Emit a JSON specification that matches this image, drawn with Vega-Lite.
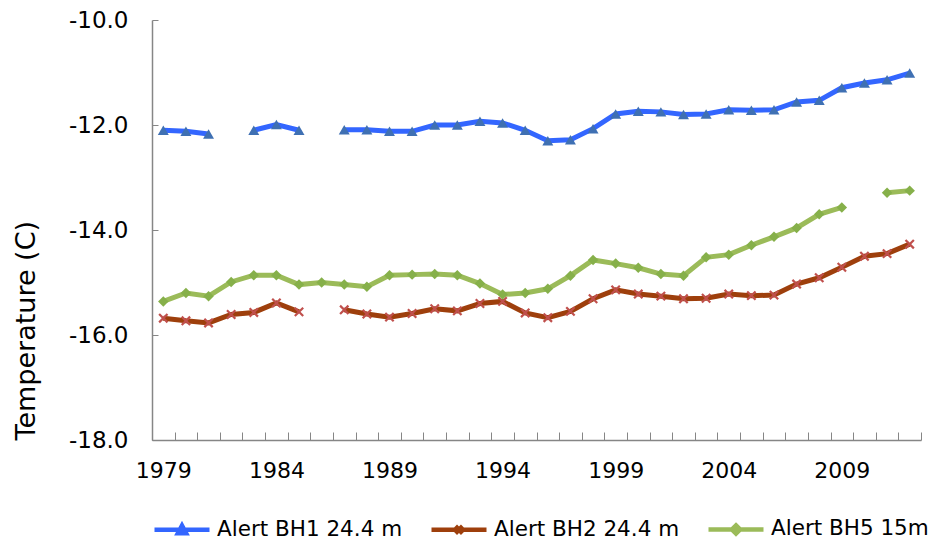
{
  "$schema": "https://vega.github.io/schema/vega-lite/v6.json",
  "width": 769,
  "height": 420,
  "autosize": {"type": "none"},
  "padding": {"left": 152, "top": 20, "right": 12, "bottom": 102},
  "background": "white",
  "config": {
    "font": "DejaVu Sans",
    "view": {"stroke": null},
    "axis": {"grid": false, "labelColor": "#000000", "titleColor": "#000000"}
  },
  "data": {"values": [
    {"year":1979,"series":"Alert BH1 24.4 m","temp":-12.10},
    {"year":1980,"series":"Alert BH1 24.4 m","temp":-12.12},
    {"year":1981,"series":"Alert BH1 24.4 m","temp":-12.17},
    {"year":1982,"series":"Alert BH1 24.4 m","temp":null},
    {"year":1983,"series":"Alert BH1 24.4 m","temp":-12.10},
    {"year":1984,"series":"Alert BH1 24.4 m","temp":-11.99},
    {"year":1985,"series":"Alert BH1 24.4 m","temp":-12.10},
    {"year":1986,"series":"Alert BH1 24.4 m","temp":null},
    {"year":1987,"series":"Alert BH1 24.4 m","temp":-12.09},
    {"year":1988,"series":"Alert BH1 24.4 m","temp":-12.09},
    {"year":1989,"series":"Alert BH1 24.4 m","temp":-12.12},
    {"year":1990,"series":"Alert BH1 24.4 m","temp":-12.12},
    {"year":1991,"series":"Alert BH1 24.4 m","temp":-12.00},
    {"year":1992,"series":"Alert BH1 24.4 m","temp":-12.00},
    {"year":1993,"series":"Alert BH1 24.4 m","temp":-11.93},
    {"year":1994,"series":"Alert BH1 24.4 m","temp":-11.96},
    {"year":1995,"series":"Alert BH1 24.4 m","temp":-12.10},
    {"year":1996,"series":"Alert BH1 24.4 m","temp":-12.30},
    {"year":1997,"series":"Alert BH1 24.4 m","temp":-12.28},
    {"year":1998,"series":"Alert BH1 24.4 m","temp":-12.07},
    {"year":1999,"series":"Alert BH1 24.4 m","temp":-11.79},
    {"year":2000,"series":"Alert BH1 24.4 m","temp":-11.74},
    {"year":2001,"series":"Alert BH1 24.4 m","temp":-11.75},
    {"year":2002,"series":"Alert BH1 24.4 m","temp":-11.80},
    {"year":2003,"series":"Alert BH1 24.4 m","temp":-11.79},
    {"year":2004,"series":"Alert BH1 24.4 m","temp":-11.71},
    {"year":2005,"series":"Alert BH1 24.4 m","temp":-11.72},
    {"year":2006,"series":"Alert BH1 24.4 m","temp":-11.71},
    {"year":2007,"series":"Alert BH1 24.4 m","temp":-11.56},
    {"year":2008,"series":"Alert BH1 24.4 m","temp":-11.53},
    {"year":2009,"series":"Alert BH1 24.4 m","temp":-11.29},
    {"year":2010,"series":"Alert BH1 24.4 m","temp":-11.20},
    {"year":2011,"series":"Alert BH1 24.4 m","temp":-11.14},
    {"year":2012,"series":"Alert BH1 24.4 m","temp":-11.01},
    {"year":1979,"series":"Alert BH2 24.4 m","temp":-15.68},
    {"year":1980,"series":"Alert BH2 24.4 m","temp":-15.73},
    {"year":1981,"series":"Alert BH2 24.4 m","temp":-15.77},
    {"year":1982,"series":"Alert BH2 24.4 m","temp":-15.61},
    {"year":1983,"series":"Alert BH2 24.4 m","temp":-15.57},
    {"year":1984,"series":"Alert BH2 24.4 m","temp":-15.39},
    {"year":1985,"series":"Alert BH2 24.4 m","temp":-15.56},
    {"year":1986,"series":"Alert BH2 24.4 m","temp":null},
    {"year":1987,"series":"Alert BH2 24.4 m","temp":-15.52},
    {"year":1988,"series":"Alert BH2 24.4 m","temp":-15.60},
    {"year":1989,"series":"Alert BH2 24.4 m","temp":-15.66},
    {"year":1990,"series":"Alert BH2 24.4 m","temp":-15.59},
    {"year":1991,"series":"Alert BH2 24.4 m","temp":-15.50},
    {"year":1992,"series":"Alert BH2 24.4 m","temp":-15.54},
    {"year":1993,"series":"Alert BH2 24.4 m","temp":-15.40},
    {"year":1994,"series":"Alert BH2 24.4 m","temp":-15.36},
    {"year":1995,"series":"Alert BH2 24.4 m","temp":-15.58},
    {"year":1996,"series":"Alert BH2 24.4 m","temp":-15.67},
    {"year":1997,"series":"Alert BH2 24.4 m","temp":-15.55},
    {"year":1998,"series":"Alert BH2 24.4 m","temp":-15.31},
    {"year":1999,"series":"Alert BH2 24.4 m","temp":-15.14},
    {"year":2000,"series":"Alert BH2 24.4 m","temp":-15.22},
    {"year":2001,"series":"Alert BH2 24.4 m","temp":-15.26},
    {"year":2002,"series":"Alert BH2 24.4 m","temp":-15.31},
    {"year":2003,"series":"Alert BH2 24.4 m","temp":-15.30},
    {"year":2004,"series":"Alert BH2 24.4 m","temp":-15.22},
    {"year":2005,"series":"Alert BH2 24.4 m","temp":-15.25},
    {"year":2006,"series":"Alert BH2 24.4 m","temp":-15.24},
    {"year":2007,"series":"Alert BH2 24.4 m","temp":-15.03},
    {"year":2008,"series":"Alert BH2 24.4 m","temp":-14.91},
    {"year":2009,"series":"Alert BH2 24.4 m","temp":-14.71},
    {"year":2010,"series":"Alert BH2 24.4 m","temp":-14.50},
    {"year":2011,"series":"Alert BH2 24.4 m","temp":-14.45},
    {"year":2012,"series":"Alert BH2 24.4 m","temp":-14.27},
    {"year":1979,"series":"Alert BH5 15m","temp":-15.36},
    {"year":1980,"series":"Alert BH5 15m","temp":-15.20},
    {"year":1981,"series":"Alert BH5 15m","temp":-15.26},
    {"year":1982,"series":"Alert BH5 15m","temp":-14.99},
    {"year":1983,"series":"Alert BH5 15m","temp":-14.86},
    {"year":1984,"series":"Alert BH5 15m","temp":-14.86},
    {"year":1985,"series":"Alert BH5 15m","temp":-15.04},
    {"year":1986,"series":"Alert BH5 15m","temp":-15.00},
    {"year":1987,"series":"Alert BH5 15m","temp":-15.04},
    {"year":1988,"series":"Alert BH5 15m","temp":-15.08},
    {"year":1989,"series":"Alert BH5 15m","temp":-14.86},
    {"year":1990,"series":"Alert BH5 15m","temp":-14.85},
    {"year":1991,"series":"Alert BH5 15m","temp":-14.84},
    {"year":1992,"series":"Alert BH5 15m","temp":-14.86},
    {"year":1993,"series":"Alert BH5 15m","temp":-15.02},
    {"year":1994,"series":"Alert BH5 15m","temp":-15.23},
    {"year":1995,"series":"Alert BH5 15m","temp":-15.20},
    {"year":1996,"series":"Alert BH5 15m","temp":-15.12},
    {"year":1997,"series":"Alert BH5 15m","temp":-14.87},
    {"year":1998,"series":"Alert BH5 15m","temp":-14.57},
    {"year":1999,"series":"Alert BH5 15m","temp":-14.64},
    {"year":2000,"series":"Alert BH5 15m","temp":-14.72},
    {"year":2001,"series":"Alert BH5 15m","temp":-14.84},
    {"year":2002,"series":"Alert BH5 15m","temp":-14.87},
    {"year":2003,"series":"Alert BH5 15m","temp":-14.52},
    {"year":2004,"series":"Alert BH5 15m","temp":-14.47},
    {"year":2005,"series":"Alert BH5 15m","temp":-14.29},
    {"year":2006,"series":"Alert BH5 15m","temp":-14.13},
    {"year":2007,"series":"Alert BH5 15m","temp":-13.96},
    {"year":2008,"series":"Alert BH5 15m","temp":-13.70},
    {"year":2009,"series":"Alert BH5 15m","temp":-13.57},
    {"year":2010,"series":"Alert BH5 15m","temp":null},
    {"year":2011,"series":"Alert BH5 15m","temp":-13.29},
    {"year":2012,"series":"Alert BH5 15m","temp":-13.25}
  ]},
  "encoding": {
    "y": {
      "field": "temp", "type": "quantitative",
      "scale": {"domain": [-18, -10], "nice": false, "zero": false},
      "axis": {
        "values": [-18, -16, -14, -12, -10],
        "format": ".1f",
        "labelExpr": "replace(datum.label, '\u2212', '-')",
        "labelFontSize": 23,
        "labelPadding": 30,
        "tickSize": -6,
        "tickColor": "#868686",
        "domainColor": "#868686",
        "domainWidth": 1.5,
        "title": "Temperature (C)",
        "titleFontSize": 27,
        "titleFontWeight": "normal",
        "titleAnchor": "start",
        "titlePadding": 28
      }
    }
  },
  "resolve": {"axis": {"x": "independent"}},
  "layer": [
    {
      "mark": {"type": "line", "strokeWidth": 5, "invalid": "break-paths-show-domains"},
      "encoding": {
        "x": {
          "field": "year", "type": "quantitative",
          "scale": {"domain": [1978.5, 2012.5], "nice": false, "zero": false},
          "axis": {
            "orient": "bottom",
            "title": null,
            "labels": false,
            "values": [1978.5,1979.5,1980.5,1981.5,1982.5,1983.5,1984.5,1985.5,1986.5,1987.5,1988.5,1989.5,1990.5,1991.5,1992.5,1993.5,1994.5,1995.5,1996.5,1997.5,1998.5,1999.5,2000.5,2001.5,2002.5,2003.5,2004.5,2005.5,2006.5,2007.5,2008.5,2009.5,2010.5,2011.5,2012.5],
            "tickSize": -8,
            "tickColor": "#868686",
            "domainColor": "#868686",
            "domainWidth": 1.5
          }
        },
        "color": {
          "field": "series", "type": "nominal",
          "scale": {"domain": ["Alert BH1 24.4 m", "Alert BH2 24.4 m", "Alert BH5 15m"], "range": ["#3366FF", "#9E3F0C", "#9BBB59"]},
          "legend": {
            "title": null,
            "orient": "bottom",
            "direction": "horizontal",
            "symbolSize": 3025,
            "symbolStrokeWidth": 4.5,
            "symbolOpacity": 1,
            "labelFontSize": 21.5,
            "labelColor": "#000000",
            "labelLimit": 400,
            "labelOffset": 5,
            "columnPadding": 19,
            "padding": 0
          }
        }
      }
    },
    {
      "transform": [{"filter": "datum.series === 'Alert BH1 24.4 m'"}],
      "mark": {"type": "point", "shape": "triangle-up", "filled": true, "size": 120, "color": "#3F70B3", "opacity": 1},
      "encoding": {
        "x": {
          "field": "year", "type": "quantitative",
          "scale": {"domain": [1978.5, 2012.5], "nice": false, "zero": false},
          "axis": {
            "orient": "bottom",
            "title": null,
            "values": [1979, 1984, 1989, 1994, 1999, 2004, 2009],
            "format": "d",
            "ticks": false,
            "domain": false,
            "labelFontSize": 22,
            "labelPadding": 20,
            "labelFlush": false
          }
        }
      }
    },
    {
      "transform": [{"filter": "datum.series === 'Alert BH2 24.4 m'"}],
      "mark": {"type": "point", "shape": "M-1,-1L1,1M-1,1L1,-1", "filled": false, "size": 70, "strokeWidth": 2.2, "color": "#C0504D", "opacity": 1},
      "encoding": {
        "x": {"field": "year", "type": "quantitative", "scale": {"domain": [1978.5, 2012.5], "nice": false, "zero": false}, "axis": null}
      }
    },
    {
      "transform": [{"filter": "datum.series === 'Alert BH5 15m'"}],
      "mark": {"type": "point", "shape": "diamond", "filled": true, "size": 110, "color": "#86B04A", "opacity": 1},
      "encoding": {
        "x": {"field": "year", "type": "quantitative", "scale": {"domain": [1978.5, 2012.5], "nice": false, "zero": false}, "axis": null}
      }
    },
    {
      "transform": [{"filter": "datum.year < 0"}],
      "mark": {"type": "point", "filled": false, "strokeWidth": 4.5},
      "encoding": {
        "x": {"field": "year", "type": "quantitative", "scale": {"domain": [1978.5, 2012.5], "nice": false, "zero": false}, "axis": null},
        "shape": {
          "field": "series", "type": "nominal",
          "scale": {"domain": ["Alert BH1 24.4 m", "Alert BH2 24.4 m", "Alert BH5 15m"], "range": ["M-1,0L1,0M0,-0.16L0.15,0.12L-0.15,0.12Z", "M-1,0L1,0M-0.13,-0.13L0.13,0.13M-0.13,0.13L0.13,-0.13", "M-1,0L1,0M0,-0.15L0.15,0L0,0.15L-0.15,0Z"]},
          "legend": {
            "title": null,
            "orient": "bottom",
            "direction": "horizontal",
            "symbolSize": 3025,
            "symbolStrokeWidth": 4.5,
            "symbolOpacity": 1,
            "labelFontSize": 21.5,
            "labelColor": "#000000",
            "labelLimit": 400,
            "labelOffset": 5,
            "columnPadding": 19,
            "padding": 0
          }
        }
      }
    }
  ]
}
